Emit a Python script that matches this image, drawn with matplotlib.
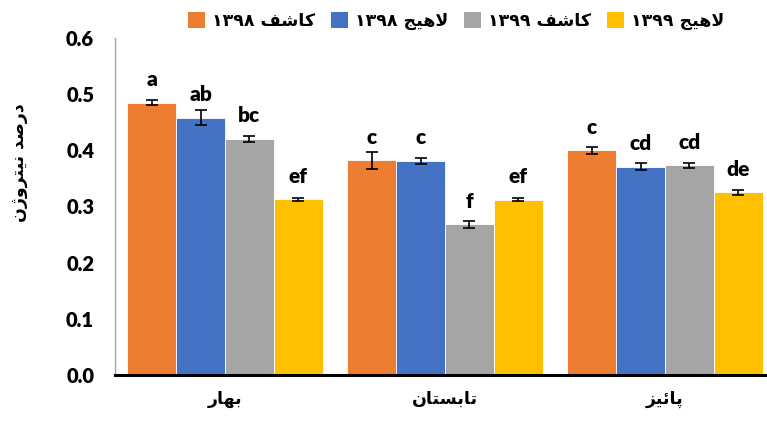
import re
import numpy as np
import matplotlib
matplotlib.use("Agg")
import matplotlib.pyplot as plt
from matplotlib.patches import Patch

# ---- data -------------------------------------------------------------
seasons = ["بهار", "تابستان", "پائیز"]
series_names = ["کاشف ۱۳۹۸", "لاهیج ۱۳۹۸", "کاشف ۱۳۹۹", "لاهیج ۱۳۹۹"]
colors = ["#ED7D31", "#4472C4", "#A5A5A5", "#FFC000"]

kashef_1398 = [0.485, 0.382, 0.400]
lahijan_1398 = [0.458, 0.381, 0.371]
kashef_1399 = [0.420, 0.268, 0.373]
lahijan_1399 = [0.313, 0.312, 0.325]

kashef_1398_err = [0.004, 0.015, 0.006]
lahijan_1398_err = [0.013, 0.005, 0.006]
kashef_1399_err = [0.006, 0.006, 0.004]
lahijan_1399_err = [0.003, 0.003, 0.005]

kashef_1398_grp = ["a", "c", "c"]
lahijan_1398_grp = ["ab", "c", "cd"]
kashef_1399_grp = ["bc", "f", "cd"]
lahijan_1399_grp = ["ef", "ef", "de"]

y_ticks = [0.0, 0.1, 0.2, 0.3, 0.4, 0.5, 0.6]
y_label = "درصد نیتروژن"

values = [kashef_1398, lahijan_1398, kashef_1399, lahijan_1399]
errors = [kashef_1398_err, lahijan_1398_err, kashef_1399_err, lahijan_1399_err]
groups = [kashef_1398_grp, lahijan_1398_grp, kashef_1399_grp, lahijan_1399_grp]

# ---- minimal Persian shaping (presentation forms, visual order) --------
# letter: (isolated, final, initial, medial); None -> does not join forward
FORMS = {
    "ا": ("\uFE8D", "\uFE8E", None, None),
    "ب": ("\uFE8F", "\uFE90", "\uFE91", "\uFE92"),
    "پ": ("\uFB56", "\uFB57", "\uFB58", "\uFB59"),
    "ت": ("\uFE95", "\uFE96", "\uFE97", "\uFE98"),
    "ج": ("\uFE9D", "\uFE9E", "\uFE9F", "\uFEA0"),
    "د": ("\uFEA9", "\uFEAA", None, None),
    "ر": ("\uFEAD", "\uFEAE", None, None),
    "ز": ("\uFEAF", "\uFEB0", None, None),
    "ژ": ("\uFB8A", "\uFB8B", None, None),
    "س": ("\uFEB1", "\uFEB2", "\uFEB3", "\uFEB4"),
    "ش": ("\uFEB5", "\uFEB6", "\uFEB7", "\uFEB8"),
    "ص": ("\uFEB9", "\uFEBA", "\uFEBB", "\uFEBC"),
    "ف": ("\uFED1", "\uFED2", "\uFED3", "\uFED4"),
    "ک": ("\uFB8E", "\uFB8F", "\uFEDB", "\uFEDC"),
    "ل": ("\uFEDD", "\uFEDE", "\uFEDF", "\uFEE0"),
    "ن": ("\uFEE5", "\uFEE6", "\uFEE7", "\uFEE8"),
    "ه": ("\uFEE9", "\uFEEA", "\uFEEB", "\uFEEC"),
    "و": ("\uFEED", "\uFEEE", None, None),
    "ی": ("\uFBFC", "\uFBFD", "\uFEF3", "\uFEF4"),
    "ئ": ("\uFE89", "\uFE8A", "\uFE8B", "\uFE8C"),
}
LAM_ALEF = ("\uFEFB", "\uFEFC")


def shape(text):
    out = []
    chars = list(text)
    i = 0
    n = len(chars)
    while i < n:
        c = chars[i]
        if c not in FORMS:
            out.append(c)
            i += 1
            continue
        prev = chars[i - 1] if i > 0 else None
        joins_prev = prev in FORMS and FORMS[prev][2] is not None
        if c == "ل" and i + 1 < n and chars[i + 1] == "ا":
            out.append(LAM_ALEF[1] if joins_prev else LAM_ALEF[0])
            i += 2
            continue
        nxt = chars[i + 1] if i + 1 < n else None
        joins_next = FORMS[c][2] is not None and nxt in FORMS
        iso, fin, ini, med = FORMS[c]
        if joins_prev and joins_next:
            out.append(med)
        elif joins_prev:
            out.append(fin)
        elif joins_next:
            out.append(ini)
        else:
            out.append(iso)
        i += 1
    shaped = "".join(out)
    tokens = re.findall(r"[0-9\u06F0-\u06F9]+|.", shaped)
    return "".join(reversed(tokens))


# ---- figure -----------------------------------------------------------
W, H = 767, 421
fig = plt.figure(figsize=(W / 100, H / 100), dpi=100)
ax = fig.add_axes([115 / W, 1 - 375 / H, 660 / W, 337 / H])

latin = "Lato"
arabic = "DejaVu Sans"

x = np.arange(len(seasons))
bw = 0.2216
offsets = (np.arange(4) - 1.5) * bw

for k in range(4):
    xs = x + offsets[k]
    ax.bar(xs, values[k], width=bw, color=colors[k], edgecolor="white",
           linewidth=0.6, zorder=2)
    ax.errorbar(xs, values[k], yerr=errors[k], fmt="none", ecolor="black",
                elinewidth=1.2, capsize=4.5, capthick=1.2, zorder=3)
    for xi, v, g in zip(xs, values[k], groups[k]):
        ax.annotate(g, (xi, v), xytext=(0, 12), textcoords="offset points",
                    ha="center", va="baseline", fontsize=15,
                    fontweight="heavy", family=latin, color="black")

ax.set_xlim(-0.5, 2.5)
ax.set_ylim(0, 0.6)
ax.set_yticks(y_ticks)
ax.set_yticklabels([f"{t:.1f}" for t in y_ticks], fontsize=14.5,
                   fontweight="heavy", family=latin)
ax.set_xticks(x)
ax.set_xticklabels([shape(s) for s in seasons], fontsize=12.5,
                   fontweight="bold", family=arabic)
ax.tick_params(axis="y", length=0, pad=15)
ax.tick_params(axis="x", length=0, pad=11)

for side in ("top", "right"):
    ax.spines[side].set_visible(False)
ax.spines["left"].set_color("#A6A6A6")
ax.spines["left"].set_linewidth(1.0)
ax.spines["bottom"].set_color("black")
ax.spines["bottom"].set_linewidth(2.2)

fig.text(19 / W, 1 - 163 / H, shape(y_label), rotation=90, ha="center",
         va="center", fontsize=12.5, fontweight="bold", family=arabic)

handles = [Patch(facecolor=c, edgecolor="none") for c in colors]
fig.legend(handles, [shape(s) for s in series_names], loc="center",
           bbox_to_anchor=(456 / W, 1 - 21 / H), ncol=4, frameon=False,
           handlelength=1.0, handleheight=1.0, handletextpad=0.4,
           columnspacing=0.9, borderaxespad=0,
           prop={"family": arabic, "weight": "bold", "size": 12.5})

fig.savefig("out.png", dpi=100)
